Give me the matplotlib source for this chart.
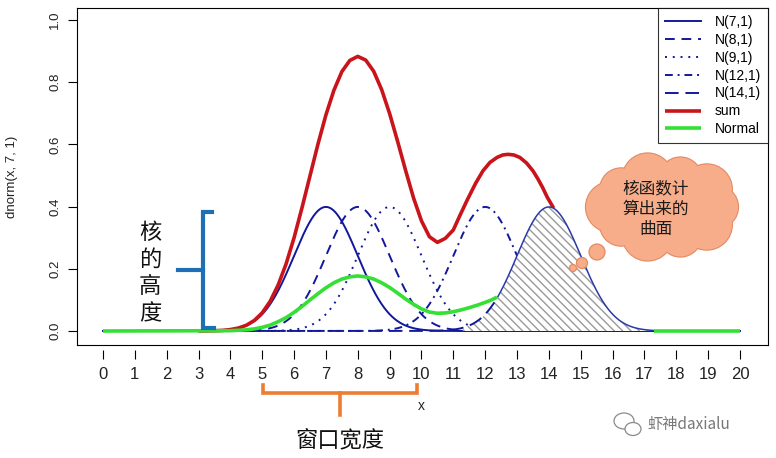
import numpy as np
import matplotlib
matplotlib.use("Agg")
import matplotlib.pyplot as plt
from matplotlib.patches import Circle, Ellipse

plt.rcParams['font.family'] = ['Liberation Sans', 'Noto Sans CJK SC', 'DejaVu Sans']
plt.rcParams['hatch.linewidth'] = 1.0

# kernel centres (sd = 1) and their legend labels / R line types
means = [7, 8, 9, 12, 14]
sd = 1
labels = ['N(7,1)', 'N(8,1)', 'N(9,1)', 'N(12,1)', 'N(14,1)']
dashes = [None, (5, 3.5), (1, 3), (4, 2.5, 1, 2.5), (7, 3.5)]

# red "sum" curve
sum_x = [3.0, 3.25, 3.5, 3.75, 4.0, 4.25, 4.5, 4.75, 5.0, 5.25, 5.5, 5.75,
         6.0, 6.25, 6.5, 6.75, 7.0, 7.25, 7.5, 7.75, 8.0, 8.25, 8.5, 8.75,
         9.0, 9.25, 9.5, 9.75, 10.0, 10.25, 10.5, 10.75, 11.0, 11.2, 11.43,
         11.7, 11.93, 12.15, 12.37, 12.55, 12.72, 12.9, 13.09, 13.3, 13.5,
         13.65, 13.8, 13.95, 14.15]
sum_y = [0.0001, 0.0004, 0.0009, 0.002, 0.0046, 0.0095, 0.0184, 0.0338, 0.0586,
         0.0957, 0.148, 0.216, 0.300, 0.397, 0.499, 0.601, 0.695, 0.774, 0.834,
         0.870, 0.883, 0.871, 0.835, 0.776, 0.699, 0.610, 0.517, 0.428, 0.354,
         0.303, 0.285, 0.298, 0.325, 0.37, 0.42, 0.475, 0.515, 0.542, 0.558,
         0.566, 0.568, 0.566, 0.558, 0.54, 0.515, 0.49, 0.462, 0.43, 0.395]

# green "Normal" curve (two visible pieces)
norm_x = [0.0, 4.0, 4.5, 4.75, 5.0, 5.25, 5.5, 5.75, 6.0, 6.25, 6.5, 6.75,
          7.0, 7.25, 7.5, 7.75, 8.0, 8.25, 8.5, 8.75, 9.0, 9.25, 9.5, 9.75,
          10.0, 10.25, 10.5, 10.75, 11.0, 11.25, 11.5, 11.75, 12.0, 12.2, 12.37]
norm_y = [0.0, 0.001, 0.0037, 0.0068, 0.0117, 0.019, 0.030, 0.043, 0.060,
          0.079, 0.100, 0.120, 0.139, 0.155, 0.167, 0.174, 0.177, 0.174, 0.167,
          0.155, 0.140, 0.122, 0.103, 0.086, 0.071, 0.061, 0.057, 0.058, 0.062,
          0.068, 0.075, 0.083, 0.092, 0.100, 0.109]
norm_x2 = [17.3, 20.0]
norm_y2 = [0.0, 0.0]

# shaded kernel
shade_mean = 14
shade_from, shade_edge_from, shade_to = 11.3, 12.4, 17.3

xticks = list(range(0, 21))
yticks = [0.0, 0.2, 0.4, 0.6, 0.8, 1.0]

blue = '#12189a'
red = '#c8141a'
green = '#33e033'


def dnorm(x, m, s):
    return np.exp(-0.5 * ((x - m) / s) ** 2) / (s * np.sqrt(2 * np.pi))


W, H = 776, 458
fig = plt.figure(figsize=(W / 100, H / 100), dpi=100)
left, right, top, bottom = 77, 768, 8, 345
ax = fig.add_axes([left / W, 1 - bottom / H, (right - left) / W, (bottom - top) / H])
xlim = (-0.816, 20.88)
ax.set_xlim(*xlim)
ax.set_ylim(-0.045, 1.0386)

x = np.linspace(0, 20, 1601)
for m, lab, d in zip(means, labels, dashes):
    xm = x[x <= shade_edge_from] if m == shade_mean else x
    ln, = ax.plot(xm, dnorm(xm, m, sd), color=blue, lw=1.4, label=lab, zorder=2)
    if d is not None:
        ln.set_dashes(d)
    if m == shade_mean:
        ln.set_zorder(6)

ax.plot(sum_x, sum_y, color=red, lw=2.6, label='sum', zorder=3,
        solid_capstyle='butt')
ax.plot(norm_x, norm_y, color=green, lw=2.6, label='Normal', zorder=8,
        solid_capstyle='butt')
ax.plot(norm_x2, norm_y2, color=green, lw=2.6, zorder=8, solid_capstyle='butt')

# hatched kernel area
xs = np.linspace(shade_from, shade_to, 300)
ax.fill_between(xs, 0, dnorm(xs, shade_mean, sd), facecolor='white',
                edgecolor='#9a9a9a', hatch='\\\\\\\\', lw=0, zorder=5)
xe = np.linspace(shade_edge_from, shade_to, 300)
ax.plot(xe, dnorm(xe, shade_mean, sd), color='#2a3aa8', lw=1.1, zorder=7)

# axes styling
ax.set_xticks([])
ax.set_yticks(yticks)
ax.set_yticklabels([f'{v:.1f}' for v in yticks], rotation=90, va='center',
                   fontsize=9.5, color='#222222')
ax.tick_params(axis='y', length=6.5, width=0.8, pad=5)
for sp in ax.spines.values():
    sp.set_linewidth(0.8)
ax.set_ylabel('dnorm(x, 7, 1)', fontsize=9.5, color='#222222')
ax.yaxis.set_label_coords(-0.085, 0.5)

leg = ax.legend(loc='upper right', bbox_to_anchor=(1.0, 1.0), borderaxespad=0,
                fancybox=False, edgecolor='black', fontsize=10, handlelength=2.6,
                handletextpad=1.0, labelspacing=0.28, borderpad=0.5)
leg.get_frame().set_linewidth(0.8)
leg.set_zorder(20)

# detached x axis below the box
axx = fig.add_axes([left / W, 1 - 350 / H, (right - left) / W, 1e-4])
axx.set_xlim(*xlim)
axx.set_xticks(xticks)
axx.set_xticklabels([str(v) for v in xticks], fontsize=12, color='#222222')
axx.tick_params(axis='x', length=6.5, width=0.8, pad=6)
axx.set_yticks([])
for sp in axx.spines.values():
    sp.set_visible(False)
axx.patch.set_alpha(0)

# overlay in pixel coordinates for the annotations
ov = fig.add_axes([0, 0, 1, 1])
ov.set_xlim(0, W)
ov.set_ylim(H, 0)
ov.axis('off')
ov.patch.set_alpha(0)

ov.text(421, 406, 'x', fontsize=10, ha='center', va='center', color='#222222')

# blue bracket - kernel height
bc = '#1f6fb5'
ov.plot([212, 203, 203, 214], [212, 212, 328, 328], color=bc, lw=3,
        solid_joinstyle='miter')
ov.plot([178, 203], [270, 270], color=bc, lw=3)
ov.text(150, 273, '核\n的\n高\n度', fontsize=16, ha='center', va='center',
        linespacing=1.22, family=['Noto Sans CJK SC'], color='#111111')

# orange bracket - window width
oc = '#ed7d31'
ov.plot([263, 263, 417, 417], [385, 393, 393, 385], color=oc, lw=2.6,
        solid_joinstyle='miter')
ov.plot([340, 340], [393, 415], color=oc, lw=2.6)
ov.text(340, 440, '窗口宽度', fontsize=16, ha='center', va='center',
        family=['Noto Sans CJK SC'], color='#111111')

# thought cloud
face, edge = '#f7ad8a', '#e48a62'
cx, cy = 664, 207
bumps = []
for i, th in enumerate(np.linspace(0, 2 * np.pi, 11)[:-1]):
    r = 22 + (3 if i % 2 else -1)
    bumps.append((cx + 53 * np.cos(th), cy + 30 * np.sin(th), r))
for bx, by, r in bumps:
    ov.add_patch(Circle((bx, by), r, facecolor=face, edgecolor=edge, lw=1.6, zorder=10))
for bx, by, r in bumps:
    ov.add_patch(Circle((bx, by), r, facecolor=face, edgecolor='none', zorder=11))
ov.add_patch(Ellipse((cx, cy), 120, 70, facecolor=face, edgecolor='none', zorder=11))
for bx, by, r in [(597, 252, 8), (582, 263, 5.5), (573, 268, 3.5)]:
    ov.add_patch(Circle((bx, by), r, facecolor=face, edgecolor=edge, lw=0.9, zorder=10))
ov.text(cx - 8, 209, '核函数计\n算出来的\n曲面', fontsize=12, ha='center',
        va='center', linespacing=1.25, family=['Noto Sans CJK SC'],
        color='#1a1a1a', zorder=12)

# watermark
wm = '#8a8a8a'
ov.add_patch(Ellipse((624, 421), 20, 16, facecolor='white', edgecolor=wm, lw=0.9))
ov.add_patch(Ellipse((633, 429), 16, 13, facecolor='white', edgecolor=wm, lw=0.9))
ov.text(647, 425, '虾神daxialu', fontsize=11, ha='left', va='center', color='#777777',
        family=['Noto Sans CJK SC', 'DejaVu Sans'])

fig.savefig('out.png', dpi=100)
